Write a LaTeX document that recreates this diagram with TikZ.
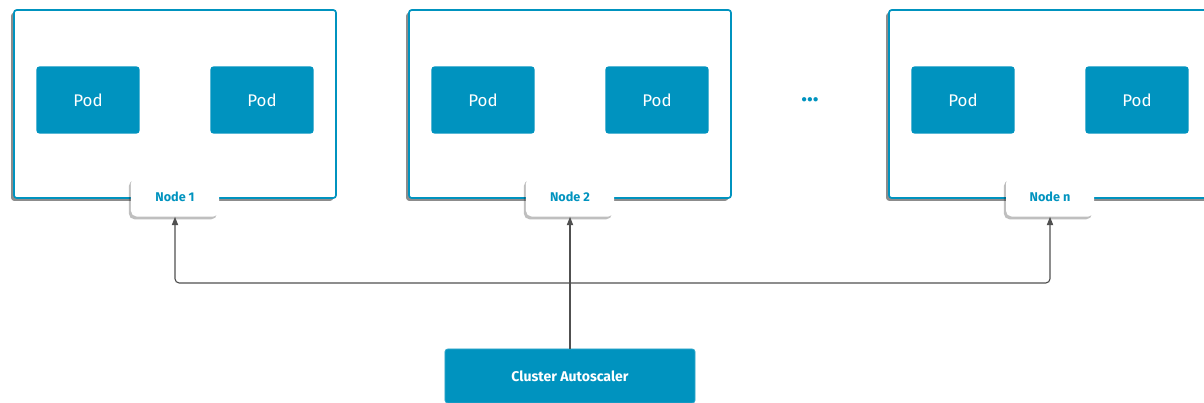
\documentclass[tikz,border=0pt]{standalone}
\usepackage{fontspec}
\setmainfont{Fira Sans}
\usetikzlibrary{positioning,shadows,arrows.meta}
\definecolor{podblue}{RGB}{0,147,191}
\definecolor{wiregray}{RGB}{80,80,80}
\tikzset{
  host/.style={draw=podblue, line width=1.2pt, fill=white, rounded corners=2pt,
    minimum width=8.05cm, minimum height=4.7cm,
    drop shadow={shadow xshift=-2pt, shadow yshift=-2pt, opacity=.6, fill=black!75}},
  pod/.style={fill=podblue, rounded corners=2pt, minimum width=2.575cm, minimum height=1.675cm,
    text=white, font=\fontsize{12}{14}\selectfont},
  tag/.style={fill=white, rounded corners=4pt, minimum width=2.2cm, minimum height=0.975cm,
    text=podblue, font=\fontsize{9}{11}\selectfont\bfseries,
    drop shadow={shadow xshift=-1.5pt, shadow yshift=-2pt, opacity=.25, fill=black}},
  scaler/.style={fill=podblue, draw=podblue!80!white, line width=.6pt, rounded corners=2pt,
    minimum width=6.25cm, minimum height=1.35cm, text=white, font=\fontsize{10}{12}\selectfont\bfseries},
  wire/.style={->, draw=wiregray, line width=.8pt}
}
\begin{document}
\begin{tikzpicture}[x=0.025cm, y=-0.025cm, >={Triangle[length=6pt,width=4.5pt]}, line join=round]
  \useasboundingbox (0,0) rectangle (1204,402);
  \clip (0,0) rectangle (1204,402);
  % worker nodes with their pods
  \foreach \i/\x/\t in {1/175/1, 2/570/2, 3/1050/n}{
    \node[host] (host\i) at (\x,104) {};
    \node[pod] (pod\i a) at (\x-87,100) {Pod};
    \node[pod] (pod\i b) at (\x+87,100) {Pod};
    \node[tag] (tag\i) at (\x,197) {Node \t};
  }
  \node[text=podblue, font=\fontsize{17}{17}\selectfont\bfseries] (dots) at (810,100) {...};
  \node[scaler] (scaler) at (570,376) {Cluster Autoscaler};
  % connectors
  \coordinate (bus) at (570,283);
  \draw[wire] (scaler.north) -- (tag2.south);
  \draw[wire, rounded corners=3pt] (bus) -| (tag1.south);
  \draw[wire, rounded corners=3pt] (bus) -| (tag3.south);
\end{tikzpicture}
\end{document}
